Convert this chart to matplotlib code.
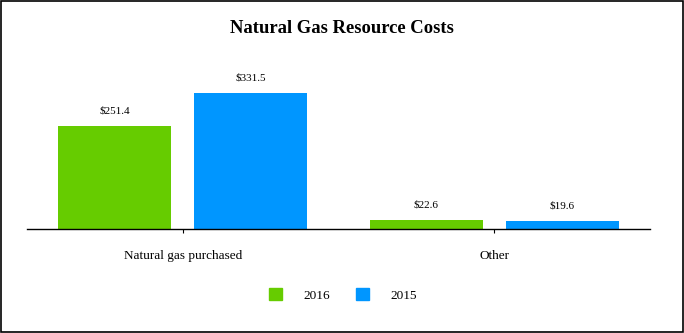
import matplotlib
matplotlib.use("Agg")
import matplotlib.pyplot as plt
import numpy as np
from matplotlib.patches import Rectangle, Patch

categories = ["Natural gas purchased", "Other"]
series_names = ["2016", "2015"]
values_2016 = [251.4, 22.6]
values_2015 = [331.5, 19.6]
colors = ["#66CC00", "#0096FF"]

plt.rcParams['font.family'] = ['Liberation Serif', 'DejaVu Serif']

fig = plt.figure(figsize=(6.84, 3.33), dpi=100)
ax = fig.add_axes([27/684, 1 - 229/333, (650-27)/684, (229-60)/333])

x = np.arange(len(categories))
w = 0.363
off = 0.218
b1 = ax.bar(x - off, values_2016, w, color=colors[0], label=series_names[0])
b2 = ax.bar(x + off, values_2015, w, color=colors[1], label=series_names[1])
for bars, vals in ((b1, values_2016), (b2, values_2015)):
    for r, v in zip(bars, vals):
        ax.annotate(f"${v:.1f}", (r.get_x() + r.get_width()/2, v), xytext=(0, 7.5),
                    textcoords="offset points", ha="center", va="bottom", fontsize=8)

ax.set_xlim(-0.5, 1.5)
ax.set_ylim(0, (229-60)/0.41)
ax.set_xticks(x)
ax.set_xticklabels(categories, fontsize=9.5)
ax.tick_params(axis='x', length=3, width=0.8, pad=12)
ax.set_yticks([])
for s in ["top", "right", "left"]:
    ax.spines[s].set_visible(False)
ax.spines["bottom"].set_linewidth(1.0)

fig.text(0.5, 1 - 28.5/333, "Natural Gas Resource Costs", ha="center", va="center",
         fontsize=13.4, fontweight="bold")

handles = [Patch(color=colors[0]), Patch(color=colors[1])]
fig.legend(handles, series_names, loc="center", bbox_to_anchor=(343/684, 1 - 295/333),
           ncol=2, frameon=False, fontsize=9.5, handlelength=1.0, handleheight=1.0,
           handletextpad=1.65, columnspacing=1.9)

fig.add_artist(Rectangle((0.0015, 0.003), 0.997, 0.994, transform=fig.transFigure,
                         fill=False, edgecolor="black", linewidth=1.2))

fig.savefig("out.png", dpi=100)
